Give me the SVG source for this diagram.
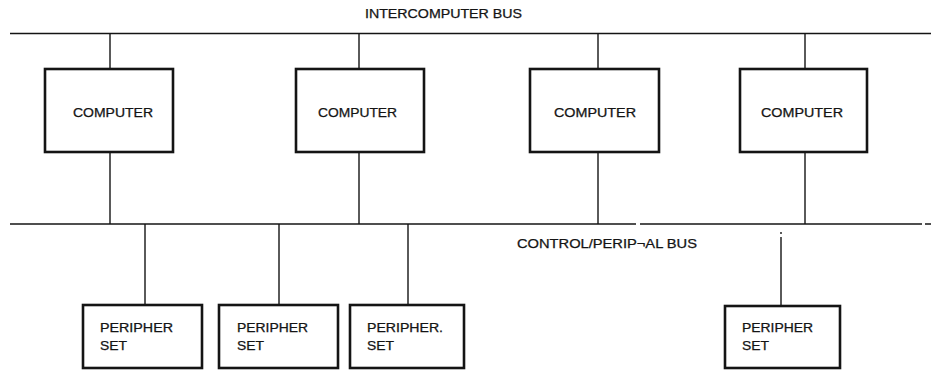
<svg xmlns="http://www.w3.org/2000/svg" width="931" height="370" viewBox="0 0 931 370">
<style>
.bus{stroke:#141414;stroke-width:1.5;fill:none}
.ln{stroke:#141414;stroke-width:1.4;fill:none}
.box{fill:#fff;stroke:#141414;stroke-width:2.6}
text{font-family:"Liberation Sans",Arial,sans-serif;font-size:12px;fill:#141414;stroke:#141414;stroke-width:0.25}
</style>
<rect width="931" height="370" fill="#fff"/>
<g id="connectors">
<line class="bus" x1="10" y1="33.5" x2="931" y2="33.5"/>
<line class="bus" x1="10" y1="224" x2="636" y2="224"/>
<line class="bus" x1="640" y1="224" x2="922" y2="224"/>
<line class="bus" x1="925" y1="224" x2="931" y2="224"/>
<line class="ln" x1="110" y1="33" x2="110" y2="69"/>
<line class="ln" x1="110" y1="152" x2="110" y2="224"/>
<line class="ln" x1="359" y1="33" x2="359" y2="69"/>
<line class="ln" x1="359" y1="152" x2="359" y2="224"/>
<line class="ln" x1="598" y1="33" x2="598" y2="69"/>
<line class="ln" x1="598" y1="152" x2="598" y2="224"/>
<line class="ln" x1="805" y1="33" x2="805" y2="69"/>
<line class="ln" x1="805" y1="152" x2="805" y2="224"/>
<line class="ln" x1="145" y1="224" x2="145" y2="305"/>
<line class="ln" x1="279" y1="224" x2="279" y2="305"/>
<line class="ln" x1="408" y1="224" x2="408" y2="305"/>
<line class="ln" x1="781" y1="232" x2="781" y2="234"/>
<line class="ln" x1="781" y1="237" x2="781" y2="306"/>
</g>
<text id="label-intercomputer" x="365" y="18" textLength="157" lengthAdjust="spacingAndGlyphs">INTERCOMPUTER BUS</text>
<text id="label-control" x="517" y="248" textLength="180" lengthAdjust="spacingAndGlyphs">CONTROL/PERIP¬AL BUS</text>
<g id="computer1"><rect class="box" x="45" y="69" width="128" height="83"/><text x="73" y="117" textLength="80" lengthAdjust="spacingAndGlyphs">COMPUTER</text></g>
<g id="computer2"><rect class="box" x="296" y="69" width="128" height="83"/><text x="318" y="117" textLength="79" lengthAdjust="spacingAndGlyphs">COMPUTER</text></g>
<g id="computer3"><rect class="box" x="530" y="69" width="129" height="83"/><text x="554" y="117" textLength="82" lengthAdjust="spacingAndGlyphs">COMPUTER</text></g>
<g id="computer4"><rect class="box" x="740" y="69" width="127" height="83"/><text x="761" y="117" textLength="82" lengthAdjust="spacingAndGlyphs">COMPUTER</text></g>
<g id="periph1"><rect class="box" x="83" y="305" width="119" height="63"/><text x="100" y="332" textLength="73" lengthAdjust="spacingAndGlyphs">PERIPHER</text><text x="100" y="350" textLength="27" lengthAdjust="spacingAndGlyphs">SET</text></g>
<g id="periph2"><rect class="box" x="219" y="305" width="119" height="63"/><text x="237" y="332" textLength="71" lengthAdjust="spacingAndGlyphs">PERIPHER</text><text x="237" y="350" textLength="27" lengthAdjust="spacingAndGlyphs">SET</text></g>
<g id="periph3"><rect class="box" x="350" y="305" width="114" height="63"/><text x="367" y="332" textLength="76" lengthAdjust="spacingAndGlyphs">PERIPHER.</text><text x="367" y="350" textLength="27" lengthAdjust="spacingAndGlyphs">SET</text></g>
<g id="periph4"><rect class="box" x="725" y="306" width="115" height="62"/><text x="742" y="332" textLength="71" lengthAdjust="spacingAndGlyphs">PERIPHER</text><text x="742" y="350" textLength="27" lengthAdjust="spacingAndGlyphs">SET</text></g>
</svg>
